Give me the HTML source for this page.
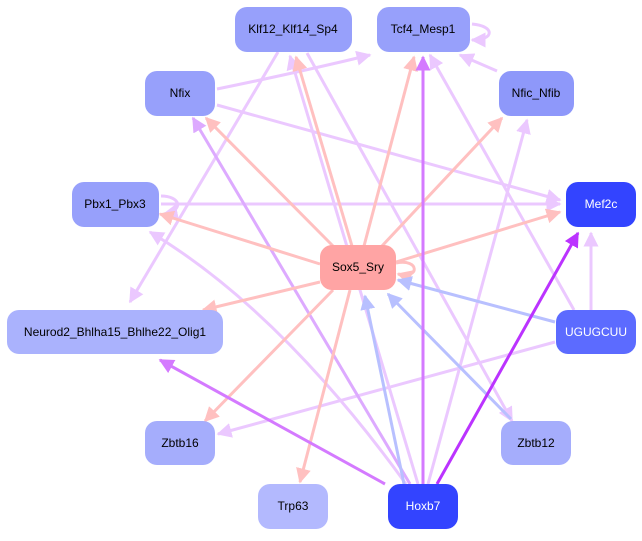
<!DOCTYPE html>
<html><head><style>
body{margin:0;background:#fff;width:642px;height:536px;overflow:hidden}
text{font-family:"Liberation Sans",sans-serif;font-size:12px;text-anchor:middle;dominant-baseline:central}
</style></head><body>
<svg width="642" height="536" viewBox="0 0 642 536" xmlns="http://www.w3.org/2000/svg">
<defs>
<marker id="pk" markerWidth="5" markerHeight="5" refX="4.5" refY="2.5" orient="auto" markerUnits="strokeWidth"><path d="M0,0L5,2.5L0,5z" fill="#ffc0c0"/></marker>
<marker id="lv" markerWidth="5" markerHeight="5" refX="4.5" refY="2.5" orient="auto" markerUnits="strokeWidth"><path d="M0,0L5,2.5L0,5z" fill="#ebc8ff"/></marker>
<marker id="pu" markerWidth="5" markerHeight="5" refX="4.5" refY="2.5" orient="auto" markerUnits="strokeWidth"><path d="M0,0L5,2.5L0,5z" fill="#d47aff"/></marker>
<marker id="md" markerWidth="5" markerHeight="5" refX="4.5" refY="2.5" orient="auto" markerUnits="strokeWidth"><path d="M0,0L5,2.5L0,5z" fill="#ddaaff"/></marker>
<marker id="st" markerWidth="5" markerHeight="5" refX="4.5" refY="2.5" orient="auto" markerUnits="strokeWidth"><path d="M0,0L5,2.5L0,5z" fill="#bb33ff"/></marker>
<marker id="bl" markerWidth="5" markerHeight="5" refX="4.5" refY="2.5" orient="auto" markerUnits="strokeWidth"><path d="M0,0L5,2.5L0,5z" fill="#b8c0ff"/></marker>
</defs>
<g fill="none" stroke-width="3">
<g stroke="#ebc8ff" marker-end="url(#lv)">
<path d="M217,89 Q300,72 370,55"/>
<path d="M217,105 L560,200"/>
<path d="M497,71 L460,55"/>
<path d="M161,204 L560,204"/>
<path d="M278,52 L130,302"/>
<path d="M307,53 L512,421"/>
<path d="M574,310 L430,55"/>
<path d="M591,310 L591,233"/>
<path d="M555,342 L218,434"/>
<path d="M418,484 L290,56"/>
<path d="M428,484 L527,120"/>
<path d="M406,484 Q280,310 150,232"/>
<path d="M161,196 C180,196 185,210 164,214"/>
<path d="M472,24 C495,26 495,40 472,40"/>
</g>
<path d="M410,484 L193,118" stroke="#ddaaff" marker-end="url(#md)"/>
<g stroke="#ffc0c0" marker-end="url(#pk)">
<path d="M352,246 L296,57"/>
<path d="M364,246 L414,57"/>
<path d="M333,246 L206,118"/>
<path d="M382,246 L502,118"/>
<path d="M320,264 L160,214"/>
<path d="M396,262 L560,212"/>
<path d="M320,282 L203,310"/>
<path d="M333,290 L205,421"/>
<path d="M350,290 L300,482"/>
<path d="M396,263 C420,258 420,280 398,274"/>
</g>
<g stroke="#b8c0ff" marker-end="url(#bl)">
<path d="M404,484 L365,296"/>
<path d="M555,322 L398,280"/>
<path d="M511,419 L388,294"/>
</g>
<path d="M423,484 L423,57" stroke="#d47aff" marker-end="url(#pu)"/>
<path d="M385,484 L160,360" stroke="#d47aff" marker-end="url(#pu)"/>
<path d="M437,484 L578,233" stroke="#bb33ff" marker-end="url(#st)"/>
</g>
<g>
<rect x="235" y="7" width="117" height="45" rx="12" fill="#97a0fb"/><text x="293" y="29">Klf12_Klf14_Sp4</text>
<rect x="377" y="7" width="93" height="45" rx="12" fill="#97a0fb"/><text x="423" y="29">Tcf4_Mesp1</text>
<rect x="145" y="71" width="70" height="45" rx="12" fill="#97a0fb"/><text x="180" y="93">Nfix</text>
<rect x="499" y="71" width="75" height="45" rx="12" fill="#8e98fa"/><text x="536" y="93">Nfic_Nfib</text>
<rect x="72" y="182" width="87" height="45" rx="12" fill="#97a0fb"/><text x="115" y="204">Pbx1_Pbx3</text>
<rect x="566" y="182" width="70" height="45" rx="12" fill="#3344ff"/><text x="601" y="204" fill="#fff">Mef2c</text>
<rect x="320" y="245" width="76" height="45" rx="12" fill="#ffa4a4"/><text x="358" y="267">Sox5_Sry</text>
<rect x="7" y="310" width="216" height="44" rx="12" fill="#aab2fd"/><text x="115" y="332">Neurod2_Bhlha15_Bhlhe22_Olig1</text>
<rect x="556" y="310" width="80" height="44" rx="12" fill="#5c6bff"/><text x="596" y="332" fill="#fff">UGUGCUU</text>
<rect x="145" y="421" width="70" height="44" rx="12" fill="#a5adfc"/><text x="180" y="443">Zbtb16</text>
<rect x="501" y="421" width="70" height="44" rx="12" fill="#a5adfc"/><text x="536" y="443">Zbtb12</text>
<rect x="258" y="484" width="70" height="45" rx="12" fill="#b3b9fe"/><text x="293" y="506">Trp63</text>
<rect x="388" y="484" width="70" height="45" rx="12" fill="#3344ff"/><text x="423" y="506" fill="#fff">Hoxb7</text>
</g>
</svg>
</body></html>
